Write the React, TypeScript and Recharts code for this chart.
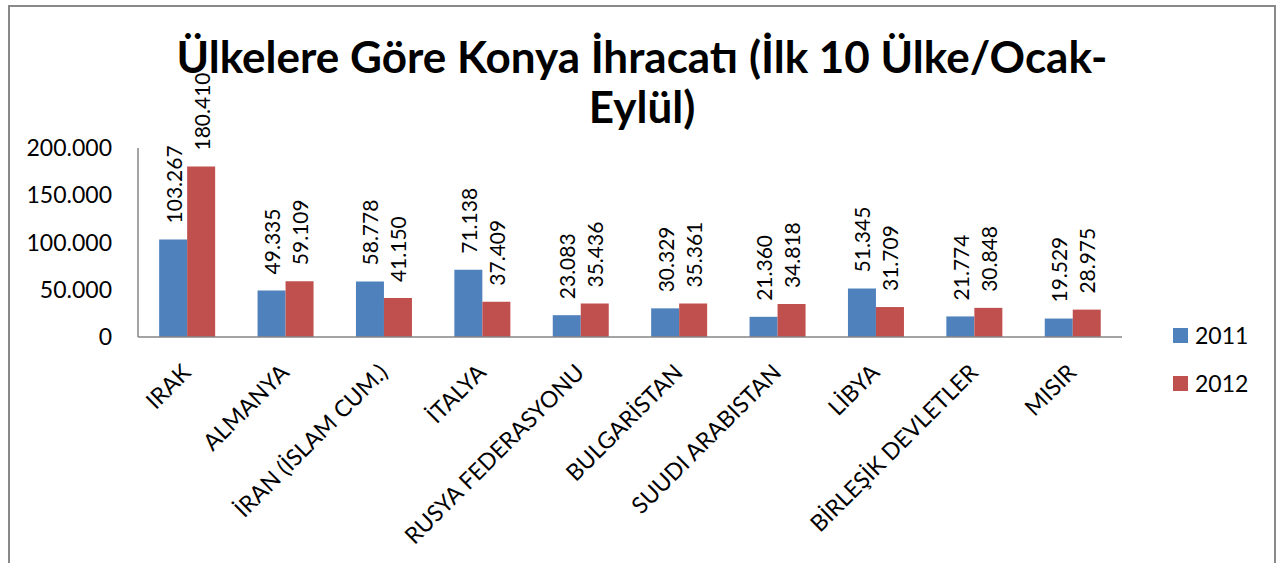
import { BarChart, Bar, XAxis, YAxis, LabelList } from "recharts";

const countries = [
  "IRAK",
  "ALMANYA",
  "İRAN (İSLAM CUM.)",
  "İTALYA",
  "RUSYA FEDERASYONU",
  "BULGARİSTAN",
  "SUUDI ARABISTAN",
  "LİBYA",
  "BİRLEŞİK DEVLETLER",
  "MISIR",
];
const exports2011 = [103267, 49335, 58778, 71138, 23083, 30329, 21360, 51345, 21774, 19529];
const exports2012 = [180410, 59109, 41150, 37409, 35436, 35361, 34818, 31709, 30848, 28975];
const yTicks = [0, 50000, 100000, 150000, 200000];
const seriesNames = ["2011", "2012"];

const BLUE = "#4F81BD";
const RED = "#C0504D";
const FONT = "Lato, 'Open Sans', sans-serif";

// thousands separated with dots, Turkish style
const fmt = (v: number) => String(v).replace(/\B(?=(\d{3})+(?!\d))/g, ".");

const data = countries.map((name, i) => ({
  name,
  y2011: exports2011[i],
  y2012: exports2012[i],
}));

const CountryTick = (props: any) => {
  const { x, y, payload } = props;
  return (
    <g transform={`translate(${x + 5},${y + 37})`}>
      <text transform="rotate(-45)" textAnchor="end" fontSize={23} fontFamily={FONT} fill="#000">
        {payload.value}
      </text>
    </g>
  );
};

const ValueLabel = (props: any) => {
  const { x, y, width, value } = props;
  const cx = x + width / 2;
  const cy = y - 16;
  return (
    <text
      x={cx}
      y={cy}
      transform={`rotate(-90, ${cx}, ${cy})`}
      textAnchor="start"
      dominantBaseline="central"
      fontSize={21}
      fontFamily={FONT}
      fill="#000"
    >
      {fmt(value)}
    </text>
  );
};

export default function App() {
  return (
    <div
      style={{
        position: "absolute",
        left: 8,
        top: 5,
        width: 1264,
        height: 600,
        border: "2px solid #898989",
        background: "#fff",
      }}
    >
      <div
        style={{
          position: "absolute",
          left: 0,
          top: 24,
          width: 1264,
          textAlign: "center",
          fontFamily: FONT,
          fontWeight: 700,
          fontSize: 44,
          lineHeight: "50px",
          color: "#000",
          zIndex: 2,
        }}
      >
        Ülkelere Göre Konya İhracatı (İlk 10 Ülke/Ocak-
        <br />
        Eylül)
      </div>
      <div style={{ position: "absolute", left: 1163, top: 321, fontFamily: FONT, fontSize: 23, color: "#000", zIndex: 2 }}>
        {seriesNames.map((label, i) => (
          <div key={label} style={{ display: "flex", alignItems: "center", height: 15, marginBottom: i === 0 ? 33 : 0 }}>
            <span style={{ width: 15, height: 15, background: i === 0 ? BLUE : RED, display: "inline-block", marginRight: 7 }} />
            <span style={{ lineHeight: "15px" }}>{label}</span>
          </div>
        ))}
      </div>
      <BarChart
        width={1264}
        height={590}
        data={data}
        margin={{ top: 141, right: 152, left: 0, bottom: 0 }}
        barCategoryGap="21.5%"
        barGap={0}
      >
        <XAxis
          dataKey="name"
          height={260}
          interval={0}
          tick={<CountryTick />}
          tickLine={false}
          tickSize={0}
          tickMargin={0}
          axisLine={{ stroke: "#868686", strokeWidth: 1.5 }}
        />
        <YAxis
          width={128}
          domain={[0, 200000]}
          ticks={yTicks}
          tickFormatter={fmt}
          tickLine={false}
          tickSize={0}
          tickMargin={26}
          axisLine={{ stroke: "#868686", strokeWidth: 1.5 }}
          tick={{ fontSize: 23, fontFamily: FONT, fill: "#000" }}
        />
        <Bar dataKey="y2011" name="2011" fill={BLUE} isAnimationActive={false}>
          <LabelList dataKey="y2011" content={<ValueLabel />} />
        </Bar>
        <Bar dataKey="y2012" name="2012" fill={RED} isAnimationActive={false}>
          <LabelList dataKey="y2012" content={<ValueLabel />} />
        </Bar>
      </BarChart>
    </div>
  );
}
